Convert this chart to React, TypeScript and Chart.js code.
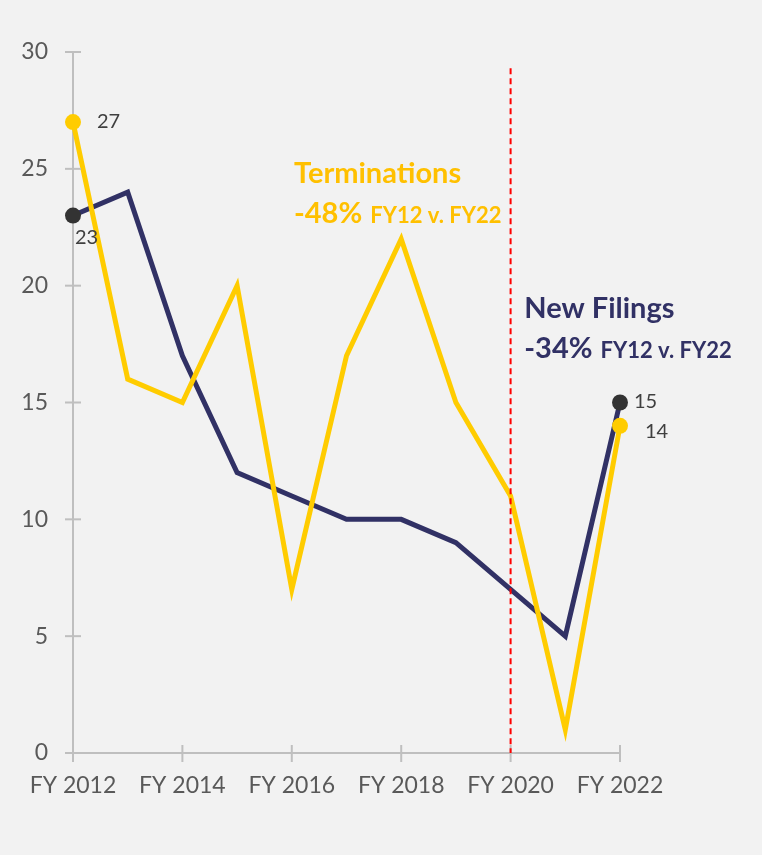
import React, { useEffect, useRef } from "react";
import { Chart, registerables } from "chart.js";

Chart.register(...registerables);

const categories = ["FY 2012", "FY 2013", "FY 2014", "FY 2015", "FY 2016", "FY 2017", "FY 2018", "FY 2019", "FY 2020", "FY 2021", "FY 2022"];
const newFilings = [23, 24, 17, 12, 11, 10, 10, 9, 7, 5, 15];
const terminations = [27, 16, 15, 20, 7, 17, 22, 15, 11, 1, 14];
const yTicks = [0, 5, 10, 15, 20, 25, 30];
const markerLine = "FY 2020";

const NAVY = "#313165";
const YELLOW = "#FFCC00";
const YELLOW_TEXT = "#FFC000";
const FONT = "Lato, 'Open Sans', sans-serif";

const overlay = {
  id: "overlay",
  afterDraw(chart: any) {
    const ctx = chart.ctx;
    const x = chart.scales.x;
    const y = chart.scales.y;
    const y0 = y.getPixelForValue(0);
    const xl = x.getPixelForValue(0);
    ctx.save();
    ctx.strokeStyle = "#bfbfbf";
    ctx.lineWidth = 2;
    yTicks.forEach((v) => {
      const py = y.getPixelForValue(v);
      ctx.beginPath();
      ctx.moveTo(xl - 8, py);
      ctx.lineTo(xl + 8, py);
      ctx.stroke();
    });
    categories.forEach((c, i) => {
      if (i % 2 !== 0) return;
      const px = x.getPixelForValue(i);
      ctx.beginPath();
      ctx.moveTo(px, y0 - 8);
      ctx.lineTo(px, y0 + 9);
      ctx.stroke();
    });
    const mx = x.getPixelForValue(categories.indexOf(markerLine));
    ctx.strokeStyle = "#FF0000";
    ctx.lineWidth = 2;
    ctx.setLineDash([6, 4]);
    ctx.beginPath();
    ctx.moveTo(mx, y.getPixelForValue(29.3));
    ctx.lineTo(mx, y0);
    ctx.stroke();
    ctx.setLineDash([]);
    ctx.restore();
  },
};

const labelsPlugin = {
  id: "labelsPlugin",
  afterDatasetsDraw(chart: any) {
    const ctx = chart.ctx;
    const x = chart.scales.x;
    const y = chart.scales.y;
    const last = categories.length - 1;
    ctx.save();
    ctx.font = `20px ${FONT}`;
    ctx.fillStyle = "#404040";
    ctx.textBaseline = "middle";
    ctx.textAlign = "left";
    ctx.fillText(String(terminations[0]), x.getPixelForValue(0) + 24, y.getPixelForValue(terminations[0]) - 1);
    ctx.fillText(String(terminations[last]), x.getPixelForValue(last) + 25, y.getPixelForValue(terminations[last]) + 6);
    ctx.fillText(String(newFilings[0]), x.getPixelForValue(0) + 2, y.getPixelForValue(newFilings[0]) + 22);
    ctx.fillText(String(newFilings[last]), x.getPixelForValue(last) + 14, y.getPixelForValue(newFilings[last]) - 1);

    ctx.textBaseline = "alphabetic";
    const tx = x.getPixelForValue(4.04);
    ctx.fillStyle = YELLOW_TEXT;
    ctx.font = `bold 29px ${FONT}`;
    ctx.fillText("Terminations", tx, y.getPixelForValue(24.4));
    ctx.fillText("-48%", tx, y.getPixelForValue(22.7));
    let w = ctx.measureText("-48%").width + 8;
    ctx.font = `bold 22px ${FONT}`;
    ctx.fillText("FY12 v. FY22", tx + w, y.getPixelForValue(22.7));

    const nx = x.getPixelForValue(8.25);
    ctx.fillStyle = NAVY;
    ctx.font = `bold 29px ${FONT}`;
    ctx.fillText("New Filings", nx, y.getPixelForValue(18.6));
    ctx.fillText("-34%", nx, y.getPixelForValue(16.9));
    w = ctx.measureText("-34%").width + 8;
    ctx.font = `bold 22px ${FONT}`;
    ctx.fillText("FY12 v. FY22", nx + w, y.getPixelForValue(16.9));
    ctx.restore();
  },
};

export default function App() {
  const ref = useRef<HTMLCanvasElement>(null);
  useEffect(() => {
    document.body.style.margin = "0";
    document.body.style.background = "#f2f2f2";
    const last = categories.length - 1;
    const endRadius = (ctx: any) => (ctx.dataIndex === 0 || ctx.dataIndex === last ? 8 : 0);
    const chart = new Chart(ref.current as HTMLCanvasElement, {
      type: "line",
      data: {
        labels: categories,
        datasets: [
          {
            label: "Terminations",
            data: terminations,
            borderColor: YELLOW,
            backgroundColor: YELLOW,
            pointBackgroundColor: YELLOW,
            pointBorderWidth: 0,
            borderWidth: 5,
            pointRadius: endRadius,
            pointHoverRadius: endRadius,
            tension: 0,
            clip: false as any,
          },
          {
            label: "New Filings",
            data: newFilings,
            borderColor: NAVY,
            backgroundColor: NAVY,
            pointBackgroundColor: "#333333",
            pointBorderWidth: 0,
            borderWidth: 5,
            pointRadius: endRadius,
            pointHoverRadius: endRadius,
            tension: 0,
            clip: false as any,
          },
        ],
      },
      options: {
        animation: false,
        responsive: false,
        maintainAspectRatio: false,
        layout: { padding: { left: 0, right: 142, top: 52, bottom: 0 } },
        plugins: {
          legend: { display: false },
          tooltip: { enabled: false },
        },
        scales: {
          x: {
            type: "category",
            offset: false,
            grid: { display: false },
            border: { display: true, color: "#bfbfbf", width: 2 },
            ticks: {
              color: "#595959",
              font: { family: FONT, size: 23 },
              padding: 11,
              maxRotation: 0,
              autoSkip: false,
              callback: (v: any, i: number) => (i % 2 === 0 ? categories[i] : null),
            },
            afterFit: (s: any) => {
              s.height = 102;
            },
          },
          y: {
            min: 0,
            max: 30,
            grid: { display: false },
            border: { display: true, color: "#bfbfbf", width: 2 },
            ticks: {
              stepSize: 5,
              color: "#595959",
              font: { family: FONT, size: 23 },
              padding: 17,
            },
            afterFit: (s: any) => {
              s.width = 73;
            },
          },
        },
      },
      plugins: [overlay, labelsPlugin],
    });
    return () => chart.destroy();
  }, []);
  return (
    <div style={{ width: 762, height: 855, background: "#f2f2f2" }}>
      <canvas ref={ref} width={762} height={855} style={{ display: "block" }} />
    </div>
  );
}
